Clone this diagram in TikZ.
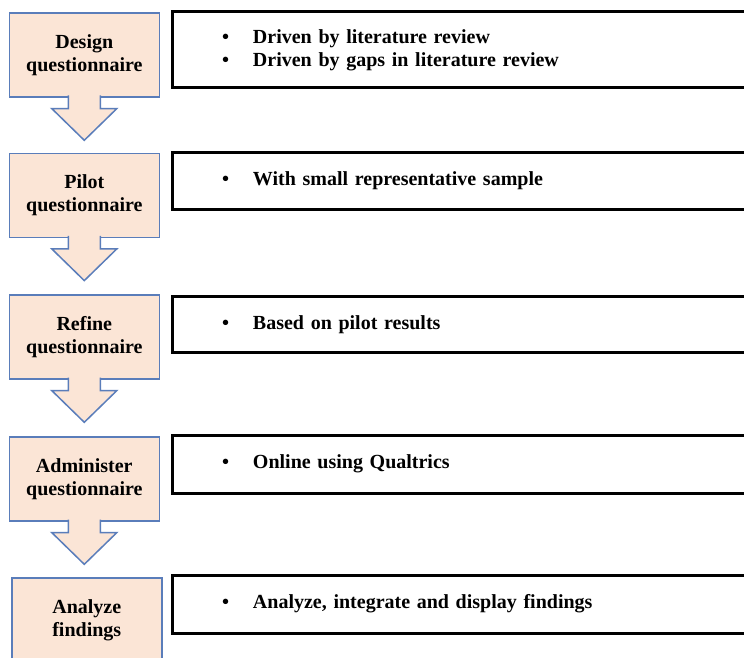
\documentclass[tikz,border=0pt]{standalone}
\usepackage{fontspec}
\setmainfont{Liberation Serif}
\usetikzlibrary{positioning}
\definecolor{stepfill}{HTML}{FBE5D6}
\definecolor{stepline}{HTML}{5A7DBA}
\tikzset{
stepbox/.style={ % orange step boxes on the left
  draw=stepline, fill=stepfill, line width=1.5pt,
  minimum width=150pt, minimum height=84pt, outer sep=0pt,
  align=center, font=\fontsize{20}{23}\selectfont\bfseries},
steparrow/.style={ % the down arrow under each step
  draw=stepline, fill=stepfill, line width=1.5pt, line join=miter},
infobox/.style={ % detail boxes on the right
  draw=black, line width=3pt, anchor=north west, outer sep=0pt,
  minimum width=600pt, text width=500pt, inner xsep=50pt, align=left,
  font=\fontsize{20}{23}\selectfont\bfseries}}
\newcommand{\bitem}[1]{\makebox[31pt][l]{\textbullet}#1}

\begin{document}
\begin{tikzpicture}[x=1pt,y=-1pt]
\clip (0,0) rectangle (744,658);
\fill[white] (0,0) rectangle (744,658);
% steps
\node[stepbox] (design) at (84.3,55) {Design\\questionnaire};
\node[stepbox] (pilot) at (84.3,195.3) {Pilot\\questionnaire};
\node[stepbox] (refine) at (84.3,337) {Refine\\questionnaire};
\node[stepbox] (administer) at (84.3,479) {Administer\\questionnaire};
\node[stepbox] (analyze) at (86.8,620) {Analyze\\findings};
% arrows between the steps
\draw[steparrow] ([xshift=-16pt,yshift=1.5pt]design.south) -- ++(0,13.1) -- ++(-16.5,0) -- ++(32.5,31.7) -- ++(32.5,-31.7) -- ++(-16.5,0) -- ++(0,-13.1);
\draw[steparrow] ([xshift=-16pt,yshift=1.5pt]pilot.south) -- ++(0,13.1) -- ++(-16.5,0) -- ++(32.5,31.7) -- ++(32.5,-31.7) -- ++(-16.5,0) -- ++(0,-13.1);
\draw[steparrow] ([xshift=-16pt,yshift=1.5pt]refine.south) -- ++(0,13.1) -- ++(-16.5,0) -- ++(32.5,31.7) -- ++(32.5,-31.7) -- ++(-16.5,0) -- ++(0,-13.1);
\draw[steparrow] ([xshift=-16pt,yshift=1.5pt]administer.south) -- ++(0,13.1) -- ++(-16.5,0) -- ++(32.5,31.7) -- ++(32.5,-31.7) -- ++(-16.5,0) -- ++(0,-13.1);
% details
\node[infobox, minimum height=76pt] (designinfo) at (172,12) {\bitem{Driven by literature review}\\\bitem{Driven by gaps in literature review}};
\node[infobox, minimum height=57pt] (pilotinfo) at (172,152.5) {\bitem{With small representative sample}};
\node[infobox, minimum height=56.5pt] (refineinfo) at (172,296) {\bitem{Based on pilot results}};
\node[infobox, minimum height=58pt] (administerinfo) at (172,435) {\bitem{Online using Qualtrics}};
\node[infobox, minimum height=58pt] (analyzeinfo) at (172,575) {\bitem{Analyze, integrate and display findings}};
\end{tikzpicture}
\end{document}
